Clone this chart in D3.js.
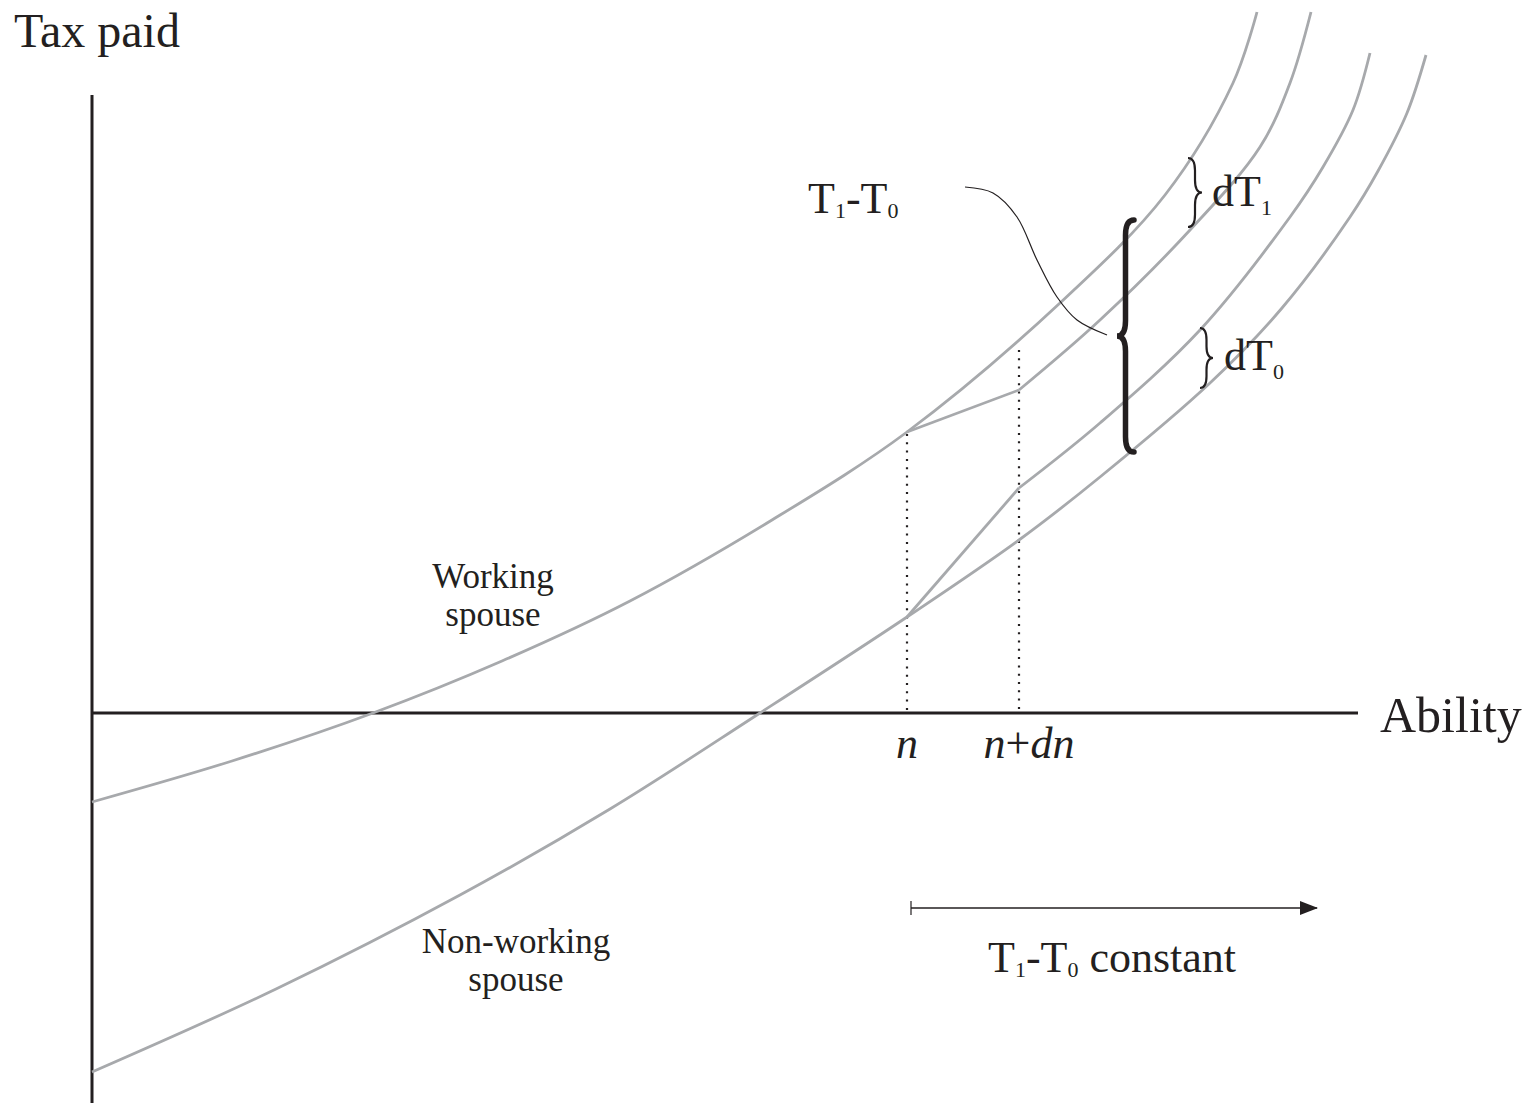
<!DOCTYPE html>
<html>
<head>
<meta charset="utf-8">
<script src="https://cdn.jsdelivr.net/npm/d3@7"></script>
<style>
  body { margin: 0; background: #fff; }
  text { font-family: "Liberation Serif", "Times New Roman", serif; fill: #231f20; }
</style>
</head>
<body>
<div id="chart"></div>
<script>
// curves (ability, tax paid)
let workAbility = [0, 1.4, 2.81, 4.10, 5.38, 6.80, 8.15, 9.68, 10.73, 11.41, 11.65];
let workTax     = [-0.89, -0.48, 0, 0.52, 1.12, 1.93, 2.81, 4.10, 5.18, 6.30, 7.01];

let workShiftAbility = [9.27, 10.08, 10.98, 11.68, 11.98, 12.19];
let workShiftTax     = [3.23, 3.93, 4.83, 5.66, 6.30, 7.01];

let nonAbility = [0, 1.84, 3.68, 5.18, 6.68, 8.15, 9.27, 10.08, 11.18, 11.90, 12.58, 12.86, 13.15, 13.34];
let nonTax     = [-3.59, -2.76, -1.82, -0.96, 0, 0.96, 1.73, 2.36, 3.30, 4.05, 4.96, 5.42, 6.00, 6.58];

let nonShiftAbility = [9.27, 10.08, 11.08, 11.98, 12.31, 12.61, 12.78];
let nonShiftTax     = [2.25, 2.90, 3.83, 4.96, 5.46, 6.03, 6.60];

let nPos = 8.15;
let ndnPos = 9.27;

let width = 1528, height = 1112;
let svg = d3.select('#chart').append('svg')
  .attr('width', width)
  .attr('height', height);

let x = d3.scaleLinear().domain([0, 12.66]).range([92, 1358]);
let y = d3.scaleLinear().domain([0, 7.13]).range([713, 0]);

let gray = '#a7a9ac';
let ink = '#231f20';

function pts(xs, ys) {
  return xs.map(function(v, i) { return [v, ys[i]]; });
}

let line = d3.line()
  .x(function(d) { return x(d[0]); })
  .y(function(d) { return y(d[1]); })
  .curve(d3.curveCatmullRom.alpha(0.5));

let straight = d3.line()
  .x(function(d) { return x(d[0]); })
  .y(function(d) { return y(d[1]); });

// axes
svg.append('line')
  .attr('x1', x(0)).attr('x2', x(0))
  .attr('y1', y(6.18)).attr('y2', y(-3.90))
  .attr('stroke', ink).attr('stroke-width', 3);
svg.append('line')
  .attr('x1', x(0)).attr('x2', x(12.66))
  .attr('y1', y(0)).attr('y2', y(0))
  .attr('stroke', ink).attr('stroke-width', 3);

// dotted guides at n and n+dn
let guides = [[nPos, workTax[workAbility.indexOf(nPos)]], [ndnPos, 3.65]];
svg.selectAll('.guide')
  .data(guides)
  .enter()
  .append('line').classed('guide', true)
  .attr('x1', function(d) { return x(d[0]); })
  .attr('x2', function(d) { return x(d[0]); })
  .attr('y1', function(d) { return y(d[1]) + 2; })
  .attr('y2', y(0) - 2)
  .attr('stroke', ink)
  .attr('stroke-width', 2.2)
  .attr('stroke-dasharray', '2,6.3');

// kinks between n and n+dn
let kinks = [
  [[nPos, workTax[workAbility.indexOf(nPos)]], [workShiftAbility[0], workShiftTax[0]]],
  [[nPos, nonTax[nonAbility.indexOf(nPos)]], [nonShiftAbility[0], nonShiftTax[0]]]
];

let curves = [
  pts(workAbility, workTax),
  pts(workShiftAbility, workShiftTax),
  pts(nonAbility, nonTax),
  pts(nonShiftAbility, nonShiftTax)
];

svg.selectAll('.curve')
  .data(curves)
  .enter()
  .append('path').classed('curve', true)
  .attr('d', line)
  .attr('fill', 'none')
  .attr('stroke', gray)
  .attr('stroke-width', 2.8);

svg.selectAll('.kink')
  .data(kinks)
  .enter()
  .append('path').classed('kink', true)
  .attr('d', straight)
  .attr('fill', 'none')
  .attr('stroke', gray)
  .attr('stroke-width', 2.8)
  .attr('stroke-linejoin', 'round');

// braces
function bracePath(x0, ya, yb, w) {
  let xm = x0 + w / 2, ym = (ya + yb) / 2, r = Math.min(Math.abs(w) * 0.9, (yb - ya) / 5);
  return 'M' + x0 + ',' + ya +
    ' Q' + xm + ',' + ya + ' ' + xm + ',' + (ya + r) +
    ' L' + xm + ',' + (ym - r) +
    ' Q' + xm + ',' + ym + ' ' + (x0 + w) + ',' + ym +
    ' Q' + xm + ',' + ym + ' ' + xm + ',' + (ym + r) +
    ' L' + xm + ',' + (yb - r) +
    ' Q' + xm + ',' + yb + ' ' + x0 + ',' + yb;
}

svg.append('path')
  .attr('d', bracePath(x(10.96), y(5.55), y(4.86), 14))
  .attr('fill', 'none').attr('stroke', ink).attr('stroke-width', 2.2);
svg.append('path')
  .attr('d', bracePath(x(11.08), y(3.85), y(3.25), 13))
  .attr('fill', 'none').attr('stroke', ink).attr('stroke-width', 2.2);
svg.append('path')
  .attr('d', bracePath(x(10.42), y(4.93), y(2.61), -17))
  .attr('fill', 'none').attr('stroke', ink).attr('stroke-width', 5.5)
  .attr('stroke-linecap', 'round');

// connector from the T1-T0 label to the big brace
let connector = [[8.73, 5.26], [9.01, 5.20], [9.25, 4.96], [9.45, 4.53], [9.65, 4.16], [9.85, 3.93], [10.15, 3.78]];
svg.append('path')
  .attr('d', line(connector))
  .attr('fill', 'none')
  .attr('stroke', ink)
  .attr('stroke-width', 1.2);

// arrow "T1-T0 constant"
svg.append('defs').append('marker')
  .attr('id', 'head')
  .attr('viewBox', '0 0 18 14')
  .attr('refX', 17).attr('refY', 7)
  .attr('markerWidth', 18).attr('markerHeight', 14)
  .attr('markerUnits', 'userSpaceOnUse')
  .attr('orient', 'auto')
  .append('path').attr('d', 'M0,0 L18,7 L0,14 Z').attr('fill', ink);

svg.append('line')
  .attr('x1', x(8.19)).attr('x2', x(12.25))
  .attr('y1', y(-1.95)).attr('y2', y(-1.95))
  .attr('stroke', ink).attr('stroke-width', 1.5)
  .attr('marker-end', 'url(#head)');
svg.append('line')
  .attr('x1', x(8.19)).attr('x2', x(8.19))
  .attr('y1', y(-1.95) - 7).attr('y2', y(-1.95) + 7)
  .attr('stroke', ink).attr('stroke-width', 1.2);

// labels
function subText(parent, xp, yp, parts, size, subSize, subDy) {
  let t = parent.append('text')
    .attr('x', xp).attr('y', yp)
    .style('font-size', size + 'px');
  parts.forEach(function(p) {
    if (p.sub) {
      t.append('tspan').text(p.s).style('font-size', subSize + 'px').attr('dy', subDy);
    } else {
      t.append('tspan').text(p.s).attr('dy', p.after ? -subDy : 0);
    }
  });
  return t;
}

svg.append('text').text('Tax paid')
  .attr('x', 14).attr('y', 47)
  .style('font-size', '48px');

svg.append('text').text('Ability')
  .attr('x', 1380).attr('y', 732)
  .style('font-size', '50px');

svg.append('text').text('n')
  .attr('x', x(nPos)).attr('y', 758)
  .attr('text-anchor', 'middle')
  .style('font-size', '44px').style('font-style', 'italic');

let ndn = svg.append('text')
  .attr('x', x(ndnPos) + 10).attr('y', 758)
  .attr('text-anchor', 'middle')
  .style('font-size', '44px').style('font-style', 'italic');
ndn.append('tspan').text('n');
ndn.append('tspan').text('+').style('font-style', 'normal');
ndn.append('tspan').text('dn');

subText(svg, 808, 213, [{s: 'T'}, {s: '1', sub: true}, {s: '-T', after: true}, {s: '0', sub: true}], 44, 22, 5);
subText(svg, 1212, 206, [{s: 'dT'}, {s: '1', sub: true}], 44, 22, 9);
subText(svg, 1224, 370, [{s: 'dT'}, {s: '0', sub: true}], 44, 22, 9);
subText(svg, 988, 972, [{s: 'T'}, {s: '1', sub: true}, {s: '-T', after: true}, {s: '0', sub: true}, {s: ' constant', after: true}], 44, 22, 5);

let series = [
  {lines: ['Working', 'spouse'], cx: 493, base: 588},
  {lines: ['Non-working', 'spouse'], cx: 516, base: 953}
];
series.forEach(function(s) {
  s.lines.forEach(function(l, i) {
    svg.append('text').text(l)
      .attr('x', s.cx).attr('y', s.base + i * 38)
      .attr('text-anchor', 'middle')
      .style('font-size', '35px');
  });
});
</script>
</body>
</html>
